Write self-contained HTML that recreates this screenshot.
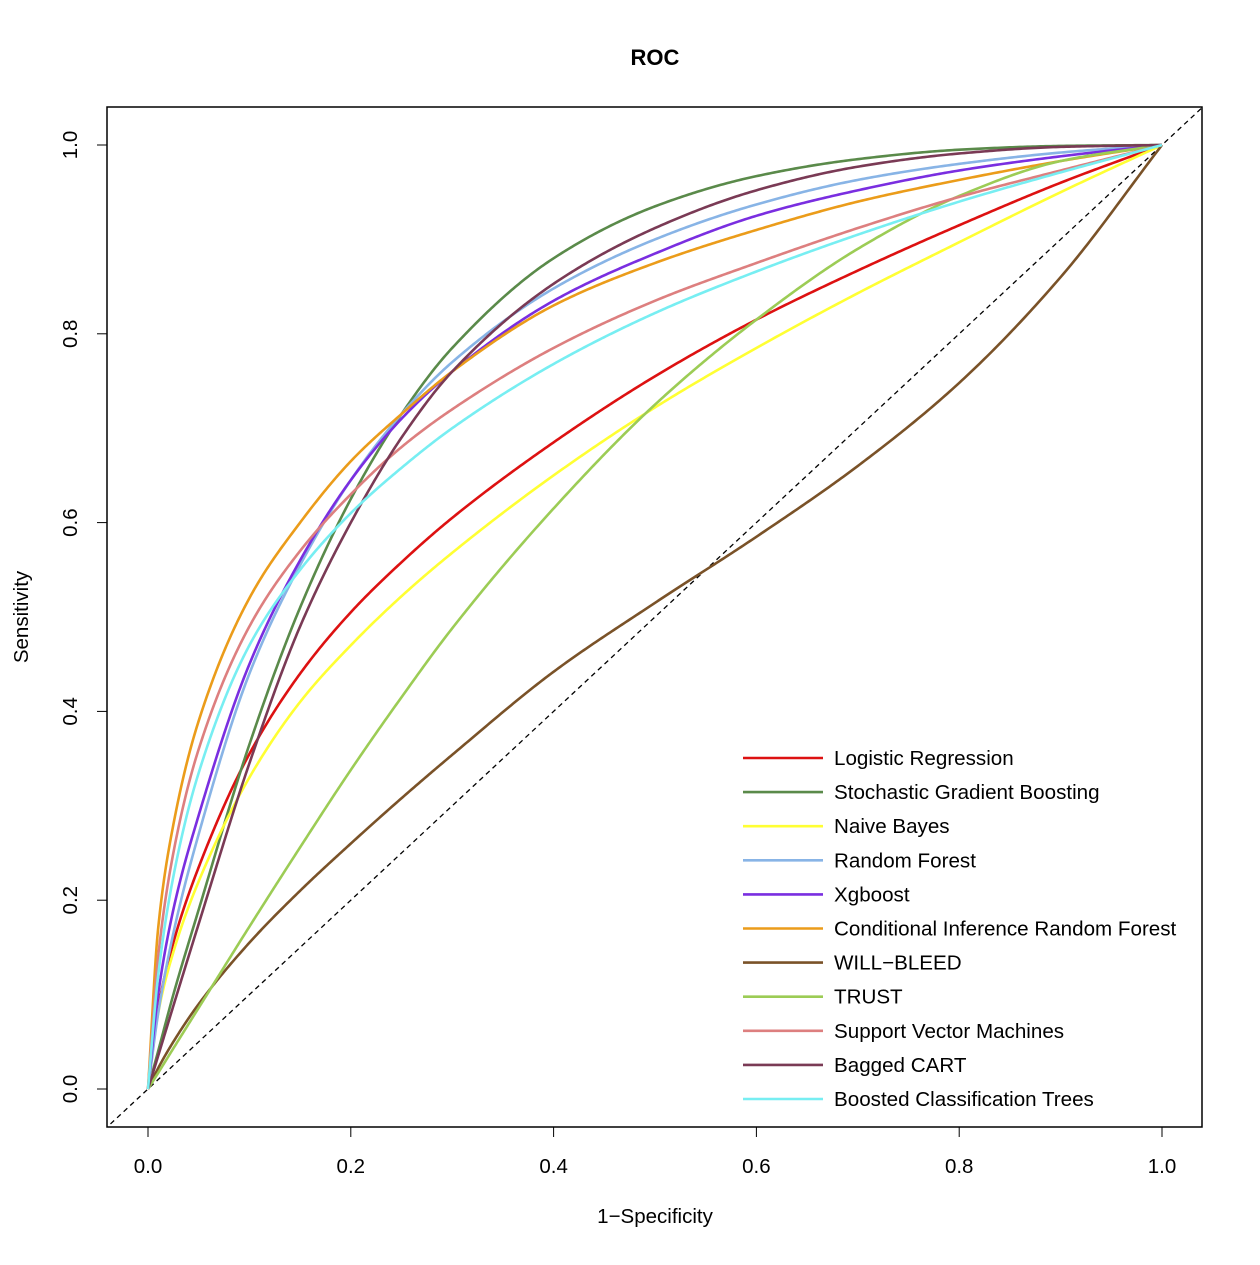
<!DOCTYPE html>
<html><head><meta charset="utf-8"><style>
body{margin:0;background:#fff;font-family:"Liberation Sans",Arial,sans-serif}
</style></head><body>
<svg id="chart" width="1260" height="1260" xmlns="http://www.w3.org/2000/svg" font-family="Liberation Sans, Arial, sans-serif">
<rect width="1260" height="1260" fill="#fff"/>
<text x="655" y="65" text-anchor="middle" font-size="22" font-weight="bold">ROC</text>
<defs><clipPath id="clip"><rect x="107" y="107" width="1095" height="1020"/></clipPath></defs>
<g id="axes"></g>
<g id="series" clip-path="url(#clip)"></g>
<rect x="107" y="107" width="1095" height="1020" fill="none" stroke="#000" stroke-width="1.5"/>
<text x="655" y="1223" text-anchor="middle" font-size="20.5">1−Specificity</text>
<text transform="translate(28,617) rotate(-90)" text-anchor="middle" font-size="20.5">Sensitivity</text>
<g id="legend"></g>
</svg>
<script>
const fpr=[0,0.01,0.025,0.05,0.1,0.15,0.2,0.25,0.3,0.4,0.5,0.6,0.7,0.8,0.9,1];
const names=["Logistic Regression","Stochastic Gradient Boosting","Naive Bayes","Random Forest","Xgboost","Conditional Inference Random Forest","WILL−BLEED","TRUST","Support Vector Machines","Bagged CART","Boosted Classification Trees"];
const colors=["#dd1111","#5a8a4a","#ffff33","#88b4e6","#7a2ee0","#eb9c1a","#7a5228","#9ccc55","#dd7f7f","#7a3a55","#77eef2"];
const sLR=[0,0.085,0.155,0.235,0.355,0.44,0.505,0.558,0.605,0.685,0.755,0.815,0.867,0.915,0.96,1];
const sSGB=[0,0.04,0.10,0.19,0.365,0.51,0.625,0.715,0.785,0.88,0.935,0.967,0.985,0.995,0.999,1];
const sNB=[0,0.08,0.145,0.22,0.33,0.41,0.47,0.522,0.568,0.65,0.722,0.785,0.843,0.897,0.95,1];
const sRF=[0,0.08,0.165,0.27,0.44,0.555,0.645,0.715,0.77,0.848,0.9,0.937,0.963,0.98,0.992,1];
const sXG=[0,0.10,0.19,0.29,0.45,0.56,0.645,0.71,0.76,0.835,0.885,0.925,0.952,0.973,0.988,1];
const sCIRF=[0,0.17,0.28,0.39,0.52,0.60,0.665,0.715,0.76,0.83,0.875,0.91,0.94,0.963,0.983,1];
const sWB=[0,0.022,0.05,0.09,0.155,0.21,0.26,0.308,0.354,0.442,0.515,0.585,0.66,0.748,0.86,1];
const sTR=[0,0.017,0.043,0.086,0.172,0.256,0.338,0.415,0.488,0.615,0.725,0.815,0.89,0.946,0.983,1];
const sSVM=[0,0.14,0.25,0.36,0.49,0.57,0.63,0.68,0.72,0.785,0.835,0.875,0.912,0.945,0.973,1];
const sBC=[0,0.035,0.088,0.175,0.345,0.49,0.60,0.69,0.76,0.853,0.912,0.952,0.977,0.991,0.998,1];
const sBCT=[0,0.12,0.225,0.335,0.47,0.55,0.61,0.658,0.70,0.768,0.822,0.866,0.905,0.94,0.971,1];
const seriesVals=[sLR,sSGB,sNB,sRF,sXG,sCIRF,sWB,sTR,sSVM,sBC,sBCT];
const ticks=["0.0","0.2","0.4","0.6","0.8","1.0"];
const NS="http://www.w3.org/2000/svg";
const X=v=>148+1014*v, Y=v=>1089-944*v;
function mk(t,a,p){const e=document.createElementNS(NS,t);for(const k in a)e.setAttribute(k,a[k]);p.appendChild(e);return e;}
const ax=document.getElementById('axes');
ticks.forEach((t,i)=>{const v=i/5;
 const a=mk('line',{x1:X(v),x2:X(v),y1:1127,y2:1137,stroke:'#000'},ax);
 
 const tx=mk('text',{x:X(v),y:1173,'text-anchor':'middle','font-size':20.5},ax);tx.textContent=t;
 
 const b=mk('line',{x1:97,x2:107,y1:Y(v),y2:Y(v),stroke:'#000'},ax);
 
 const ty=mk('text',{transform:`translate(77,${Y(v)}) rotate(-90)`,'text-anchor':'middle','font-size':20.5},ax);ty.textContent=t;
 
});
const sg=document.getElementById('series');
const d=mk('line',{x1:X(-0.05),y1:Y(-0.05),x2:X(1.05),y2:Y(1.05),stroke:'#000','stroke-dasharray':'5,4','stroke-width':1.3},sg);

function monotone(xs,ys){const n=xs.length,dl=[],m=new Array(n);
 for(let i=0;i<n-1;i++)dl.push((ys[i+1]-ys[i])/(xs[i+1]-xs[i]));
 m[0]=dl[0];m[n-1]=dl[n-2];
 for(let i=1;i<n-1;i++){if(dl[i-1]*dl[i]<=0)m[i]=0;else{const w1=2*(xs[i+1]-xs[i])+(xs[i]-xs[i-1]),w2=(xs[i+1]-xs[i])+2*(xs[i]-xs[i-1]);m[i]=(w1+w2)/(w1/dl[i-1]+w2/dl[i]);}}
 return t=>{let i=0;while(i<n-2&&t>xs[i+1])i++;const h=xs[i+1]-xs[i],s=(t-xs[i])/h;
  const h00=2*s*s*s-3*s*s+1,h10=s*s*s-2*s*s+s,h01=-2*s*s*s+3*s*s,h11=s*s*s-s*s;
  return h00*ys[i]+h10*h*m[i]+h01*ys[i+1]+h11*h*m[i+1];};}
function pathFor(vals){const f=monotone(fpr,vals);let s='';
 for(let k=0;k<=600;k++){const t=Math.pow(k/600,1.6);s+=(k?' L':'M')+X(t).toFixed(2)+','+Y(f(t)).toFixed(2);}return s;}
seriesVals.forEach((vals,i)=>{const p=mk('path',{d:pathFor(vals),fill:'none',stroke:colors[i],'stroke-width':2.6,'stroke-linejoin':'round'},sg);
 
 });
const lg=document.getElementById('legend');
names.forEach((n,i)=>{const y=758+34.1*i;
 const g=mk('g',{},lg);
 mk('line',{x1:743,x2:823,y1:y,y2:y,stroke:colors[i],'stroke-width':2.6},g);
 const t=mk('text',{x:834,y:y+7,'font-size':20.6},g);t.textContent=n;});
</script>
</body></html>
